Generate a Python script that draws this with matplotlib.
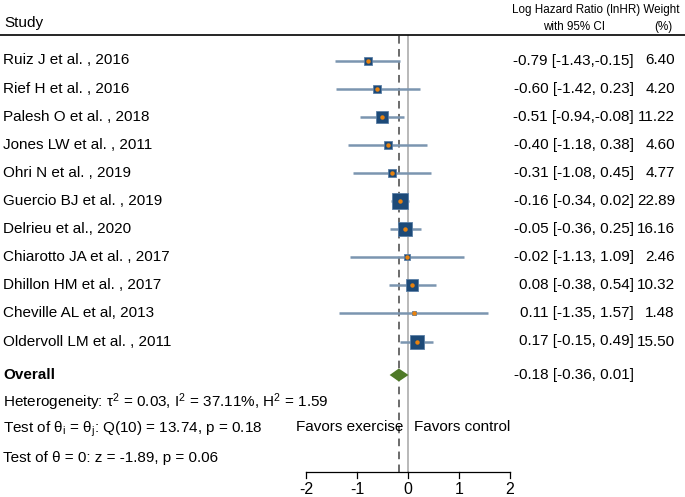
import numpy as np
import matplotlib
matplotlib.use('Agg')
import matplotlib.pyplot as plt

plt.rcParams['font.family'] = ['Liberation Sans', 'DejaVu Sans']
plt.rcParams['mathtext.fontset'] = 'custom'
plt.rcParams['mathtext.rm'] = 'Liberation Sans'
plt.rcParams['mathtext.it'] = 'Liberation Sans:italic'

studies = ['Ruiz J et al. , 2016', 'Rief H et al. , 2016', 'Palesh O et al. , 2018',
           'Jones LW et al. , 2011', 'Ohri N et al. , 2019', 'Guercio BJ et al. , 2019',
           'Delrieu et al., 2020', 'Chiarotto JA et al. , 2017', 'Dhillon HM et al. , 2017',
           'Cheville AL et al, 2013', 'Oldervoll LM et al. , 2011']
est = [-0.79, -0.60, -0.51, -0.40, -0.31, -0.16, -0.05, -0.02, 0.08, 0.11, 0.17]
lo = [-1.43, -1.42, -0.94, -1.18, -1.08, -0.34, -0.36, -1.13, -0.38, -1.35, -0.15]
hi = [-0.15, 0.23, -0.08, 0.38, 0.45, 0.02, 0.25, 1.09, 0.54, 1.57, 0.49]
weights = [6.40, 4.20, 11.22, 4.60, 4.77, 22.89, 16.16, 2.46, 10.32, 1.48, 15.50]

overall = -0.18
overall_lo = -0.36
overall_hi = 0.01
xticks = [-2, -1, 0, 1, 2]

W, H = 685, 497
fig = plt.figure(figsize=(W / 100, H / 100), dpi=100)
ax = fig.add_axes([0, 0, 1, 1])
ax.axis('off')

# x in data units: -2 -> 306px, 2 -> 510px
ppu = 51.0
x_left = -2 - 306 / ppu
ax.set_xlim(x_left, x_left + W / ppu)
# y in rows: row 0 at 60px, 28.1px per row
row0, rowh = 60.5, 28.1
ax.set_ylim((H - row0) / rowh, -row0 / rowh)


def px(x):
    return x_left + x / ppu


def py(y):
    return (y - row0) / rowh


n = len(studies)
rows = np.arange(n)
overall_row = py(375)
top = py(36)
axis_y = py(472)
fs = 11

# reference lines
ax.plot([0, 0], [top, axis_y], color='#a6a6a6', lw=1.1, zorder=1)
ax.plot([overall, overall], [top, axis_y], color='#444444', lw=1.1,
        dashes=(5, 3.5), zorder=1)

# CIs and squares
for i in range(n):
    ax.plot([lo[i], hi[i]], [rows[i], rows[i]], color='#7b95b0', lw=1.8, zorder=2,
            solid_capstyle='butt')
    ax.plot(est[i], rows[i], marker='s', ms=2.55 * np.sqrt(weights[i]),
            color='#1d4a78', mec='#5b7fa6', mew=0.6, zorder=3)
    ax.plot(est[i], rows[i], marker='o', ms=3.2, color='#e8820e', mew=0, zorder=4)

# overall diamond
dh = 6.5 / rowh
ax.fill([overall_lo, overall, overall_hi, overall],
        [overall_row, overall_row - dh, overall_row, overall_row + dh],
        color='#4f7a28', zorder=3, lw=0)

# x axis
ax.plot([xticks[0], xticks[-1]], [axis_y, axis_y], color='black', lw=0.9)
for t in xticks:
    ax.plot([t, t], [axis_y, axis_y + 6 / rowh], color='black', lw=0.9)
    ax.text(t, py(489), str(t), ha='center', va='center', fontsize=11.5)

# header
ax.plot([px(0), px(W)], [py(35), py(35)], color='black', lw=1.2)
ax.text(px(4), py(23), 'Study', ha='left', va='center', fontsize=fs)
ax.text(px(679), py(10), 'Log Hazard Ratio (lnHR) Weight', ha='right', va='center',
        fontsize=8.4)
ax.text(px(574), py(27), 'with 95% CI', ha='center', va='center', fontsize=8.4)
ax.text(px(663), py(27), '(%)', ha='center', va='center', fontsize=8.4)

# study labels and values
for i in range(n):
    ax.text(px(3), rows[i], studies[i], ha='left', va='center', fontsize=fs)
    ax.text(px(634), rows[i], '%.2f [%.2f,%5.2f]' % (est[i], lo[i], hi[i]),
            ha='right', va='center', fontsize=fs)
    ax.text(px(675), rows[i], '%.2f' % weights[i], ha='right', va='center', fontsize=fs)

ax.text(px(3), overall_row, 'Overall', ha='left', va='center', fontsize=fs,
        fontweight='bold')
ax.text(px(634), overall_row, '%.2f [%.2f,%5.2f]' % (overall, overall_lo, overall_hi),
        ha='right', va='center', fontsize=fs)

ax.text(px(3), py(402),
        r'Heterogeneity: τ$^{2}$ = 0.03, I$^{2}$ = 37.11%, H$^{2}$ = 1.59',
        ha='left', va='center', fontsize=fs)
ax.text(px(3), py(429), r'Test of θ$_\mathrm{i}$ = θ$_\mathrm{j}$: Q(10) = 13.74, p = 0.18',
        ha='left', va='center', fontsize=fs)
ax.text(px(3), py(458), 'Test of θ = 0: z = -1.89, p = 0.06',
        ha='left', va='center', fontsize=fs)

ax.text(px(403), py(427), 'Favors exercise', ha='right', va='center', fontsize=fs)
ax.text(px(414), py(427), 'Favors control', ha='left', va='center', fontsize=fs)

fig.savefig('out.png', dpi=100)
